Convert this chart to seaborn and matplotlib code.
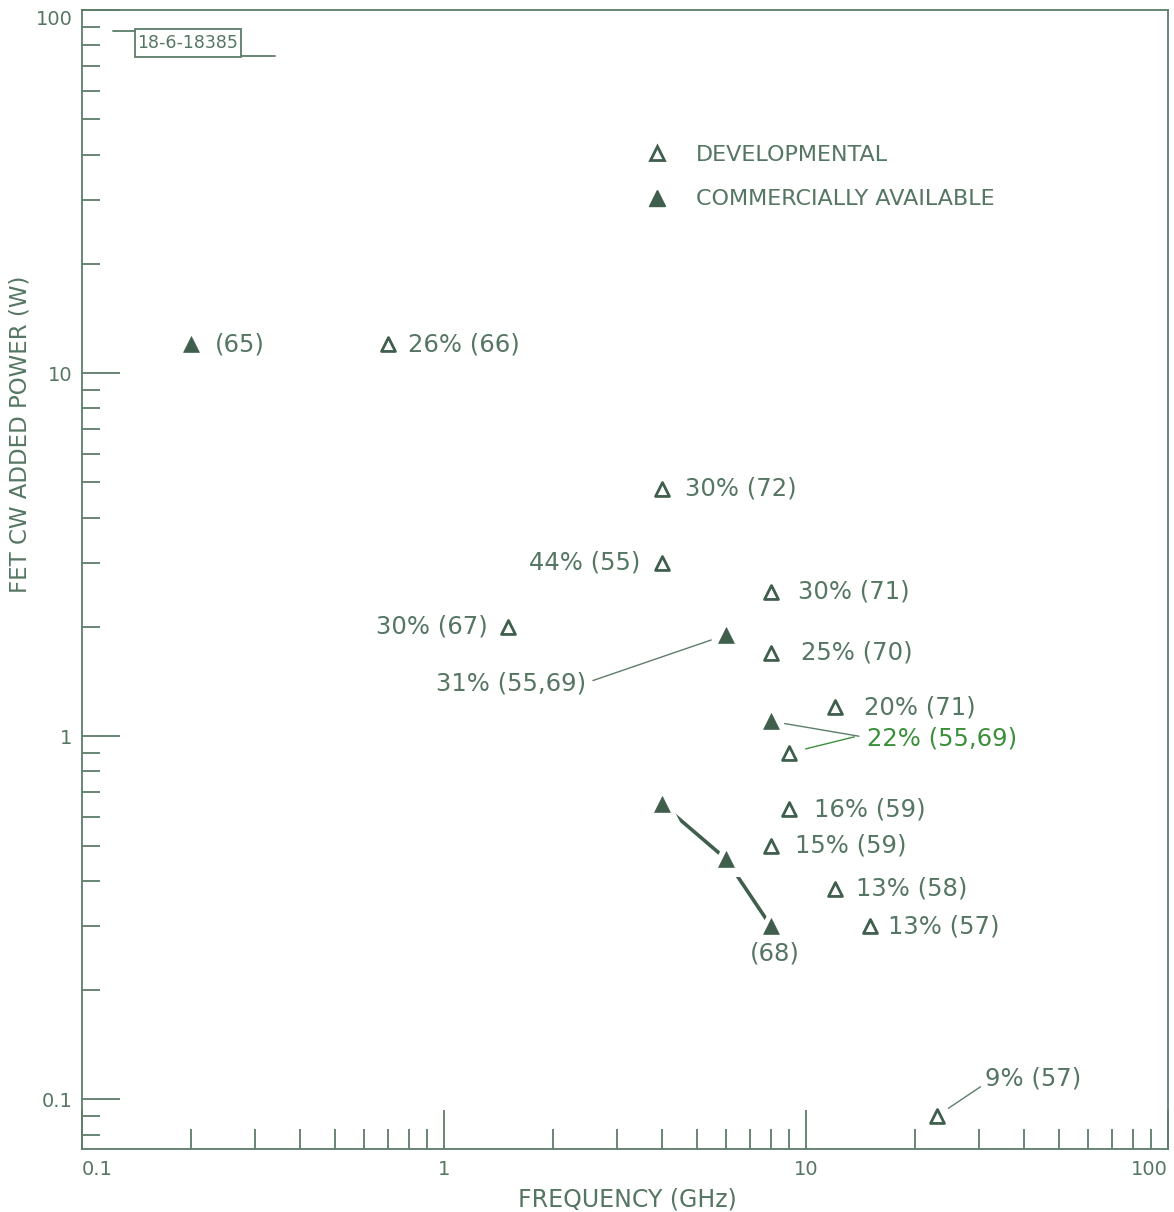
import numpy as np
import pandas as pd
import matplotlib
matplotlib.use("Agg")
import matplotlib.pyplot as plt
from matplotlib.lines import Line2D
from matplotlib.patches import Rectangle
import seaborn as sns

# ---------------- data ----------------
dev_freq = [0.7, 4, 4, 1.5, 8, 8, 12, 9, 9, 8, 12, 15, 23]
dev_power = [12, 4.8, 3, 2, 2.5, 1.7, 1.2, 0.9, 0.63, 0.5, 0.38, 0.3, 0.09]
dev_labels = ["26% (66)", "30% (72)", "44% (55)", "30% (67)", "30% (71)",
              "25% (70)", "20% (71)", "", "16% (59)", "15% (59)",
              "13% (58)", "13% (57)", "9% (57)"]

com_freq = [0.2, 6, 8]
com_power = [12, 1.9, 1.1]
com_labels = ["(65)", "31% (55,69)", "22% (55,69)"]

line68_freq = [4, 6, 8]
line68_power = [0.65, 0.46, 0.3]
line68_label = "(68)"

legend_labels = ["DEVELOPMENTAL", "COMMERCIALLY AVAILABLE"]
xlabel = "FREQUENCY (GHz)"
ylabel = "FET CW ADDED POWER (W)"
x_ticks = [0.1, 1, 10, 100]
x_ticklabels = ["0.1", "1", "10", "100"]
y_ticks = [0.1, 1, 10, 100]
y_ticklabels = ["0.1", "1", "10", "100"]
stamp = "18-6-18385"

# ---------------- style ----------------
sns.set_theme(style="white")
plt.rcParams['font.family'] = ['DejaVu Sans']

AX_C = "#5d7d69"
TXT_C = "#557662"
MK_C = "#3f5e4c"
HI_C = "#3c8f3a"

fig = plt.figure(figsize=(11.74, 12.12), dpi=100)
ax = fig.add_axes([82 / 1174, 1 - 1149 / 1212, (1168 - 82) / 1174, (1149 - 10) / 1212])

dev_df = pd.DataFrame({"f": dev_freq, "p": dev_power, "lab": dev_labels})
com_df = pd.DataFrame({"f": com_freq, "p": com_power, "lab": com_labels})
l68_df = pd.DataFrame({"f": line68_freq, "p": line68_power})

# line of (68) with gaps near markers
sns.lineplot(data=l68_df, x="f", y="p", ax=ax, color=MK_C, lw=2.6, zorder=2)
sns.scatterplot(data=l68_df, x="f", y="p", ax=ax, marker="^", s=700,
                color="white", edgecolor="none", zorder=3)
sns.scatterplot(data=l68_df, x="f", y="p", ax=ax, marker="^", s=130,
                color=MK_C, edgecolor=MK_C, linewidth=0.5, zorder=4)

sns.scatterplot(data=com_df, x="f", y="p", ax=ax, marker="^", s=130,
                color=MK_C, edgecolor=MK_C, linewidth=0.5, zorder=4)
sns.scatterplot(data=dev_df, x="f", y="p", ax=ax, marker="^", s=100,
                facecolor="white", edgecolor=MK_C, linewidth=2.0, zorder=4)

ax.set_xscale("log")
ax.set_yscale("log")
ax.set_xlim(0.1, 100)
ax.set_ylim(0.073, 100)

FS = 17.5
# developmental labels: (dx, dy) in pixels, ha
dev_offsets = [(20, 0, "left"), (23, 0, "left"), (-22, 0, "right"), (-20, 0, "right"),
               (27, 0, "left"), (30, 0, "left"), (29, 0, "left"), None,
               (25, 0, "left"), (24, 0, "left"), (21, 0, "left"), (18, 0, "left"),
               None]
for (f, p, lab), off in zip(zip(dev_freq, dev_power, dev_labels), dev_offsets):
    if off is None or not lab:
        continue
    dx, dy, ha = off
    ax.annotate(lab, (f, p), xytext=(dx, dy), textcoords="offset pixels",
                ha=ha, va="center", fontsize=FS, color=TXT_C)

# 9% (57) with leader
ax.annotate(dev_labels[12], (dev_freq[12], dev_power[12]), xytext=(48, 37),
            textcoords="offset pixels", ha="left", va="center", fontsize=FS, color=TXT_C,
            arrowprops=dict(arrowstyle="-", color=AX_C, lw=1.0, relpos=(0, 0.3),
                            shrinkA=1, shrinkB=10))

# (65)
ax.annotate(com_labels[0], (com_freq[0], com_power[0]), xytext=(24, 0),
            textcoords="offset pixels", ha="left", va="center", fontsize=FS, color=TXT_C)
# 31% (55,69)
ax.annotate(com_labels[1], (com_freq[1], com_power[1]), xytext=(-140, -48),
            textcoords="offset pixels", ha="right", va="center", fontsize=FS, color=TXT_C,
            arrowprops=dict(arrowstyle="-", color=AX_C, lw=1.0, relpos=(1, 0.5),
                            shrinkA=3, shrinkB=11))
# 22% (55,69) with two leaders
ax.annotate(com_labels[2], (com_freq[2], com_power[2]), xytext=(96, -17),
            textcoords="offset pixels", ha="left", va="center", fontsize=FS, color=HI_C)
ax.annotate("", (com_freq[2], com_power[2]), xytext=(88, -15),
            textcoords="offset pixels",
            arrowprops=dict(arrowstyle="-", color=AX_C, lw=1.0, shrinkA=0, shrinkB=10))
ax.annotate("", (dev_freq[7], dev_power[7]), xytext=(65, 16),
            textcoords="offset pixels",
            arrowprops=dict(arrowstyle="-", color=HI_C, lw=1.0, shrinkA=0, shrinkB=12))
# (68)
ax.annotate(line68_label, (line68_freq[-1], line68_power[-1]), xytext=(4, -27),
            textcoords="offset pixels", ha="center", va="center", fontsize=FS, color=TXT_C)

# ---------------- axes styling ----------------
for side in ["top", "right", "bottom", "left"]:
    ax.spines[side].set_color(AX_C)
    ax.spines[side].set_linewidth(1.3)

ax.set_xticks(x_ticks)
ax.set_xticklabels(x_ticklabels)
ax.set_yticks(y_ticks)
ax.set_yticklabels(y_ticklabels)
ax.xaxis.set_minor_locator(matplotlib.ticker.LogLocator(base=10, subs=np.arange(2, 10)))
ax.yaxis.set_minor_locator(matplotlib.ticker.LogLocator(base=10, subs=np.arange(2, 10)))
ax.xaxis.set_minor_formatter(matplotlib.ticker.NullFormatter())
ax.yaxis.set_minor_formatter(matplotlib.ticker.NullFormatter())

ax.tick_params(axis="x", which="major", direction="in", length=28, width=1.3,
               color=AX_C, labelcolor=TXT_C, labelsize=14, pad=8, bottom=True, top=False)
ax.tick_params(axis="x", which="minor", direction="in", length=14.5, width=1.3,
               color=AX_C, bottom=True, top=False)
ax.tick_params(axis="y", which="major", direction="in", length=27, width=1.3,
               color=AX_C, labelcolor=TXT_C, labelsize=14, pad=7, left=True, right=False)
ax.tick_params(axis="y", which="minor", direction="in", length=13, width=1.3,
               color=AX_C, left=True, right=False)
# green major tick at 1
for t in ax.yaxis.get_major_ticks():
    if abs(t.get_loc() - 1) < 1e-9:
        t.tick1line.set_color("#4db043")
# x tick labels: first left-aligned, last right-aligned
xtl = ax.get_xticklabels()
xtl[0].set_ha("left")
xtl[-1].set_ha("right")
ytl = ax.get_yticklabels()
ytl[-1].set_va("top")

ax.set_xlabel("")
ax.set_ylabel("")
fig.text(627 / 1174, 1 - 1199 / 1212, xlabel, ha="center", va="center",
         fontsize=17, color=TXT_C)
fig.text(20 / 1174, 1 - 434 / 1212, ylabel, ha="center", va="center",
         rotation=90, fontsize=16.5, color=TXT_C)

# legend
handles = [Line2D([], [], marker="^", ls="", ms=10, mfc="white", mec=MK_C, mew=2.0),
           Line2D([], [], marker="^", ls="", ms=11, mfc=MK_C, mec=MK_C)]
leg = ax.legend(handles, legend_labels, loc="upper left", frameon=False,
                bbox_to_anchor=((646 - 82) / 1086, 1 - (145 - 10) / 1139),
                borderpad=0, borderaxespad=0, fontsize=16, handlelength=0.95,
                handletextpad=1.3, labelspacing=1.1)
for t in leg.get_texts():
    t.set_color(TXT_C)

# stamp box
ax.add_patch(Rectangle(((135 - 82) / 1086, 1 - (57 - 10) / 1139), (241 - 135) / 1086,
                       (57 - 29) / 1139, transform=ax.transAxes, fill=False,
                       edgecolor=AX_C, lw=1.3, zorder=5))
ax.text((188 - 82) / 1086, 1 - (43 - 10) / 1139, stamp, transform=ax.transAxes,
        ha="center", va="center", fontsize=12.5, color=TXT_C)
ax.plot([(113 - 82) / 1086, (135 - 82) / 1086], [1 - (31 - 10) / 1139] * 2,
        transform=ax.transAxes, color=AX_C, lw=1.3)
ax.plot([(241 - 82) / 1086, (275 - 82) / 1086], [1 - (56 - 10) / 1139] * 2,
        transform=ax.transAxes, color=AX_C, lw=1.3)

fig.savefig("out.png", dpi=100)
